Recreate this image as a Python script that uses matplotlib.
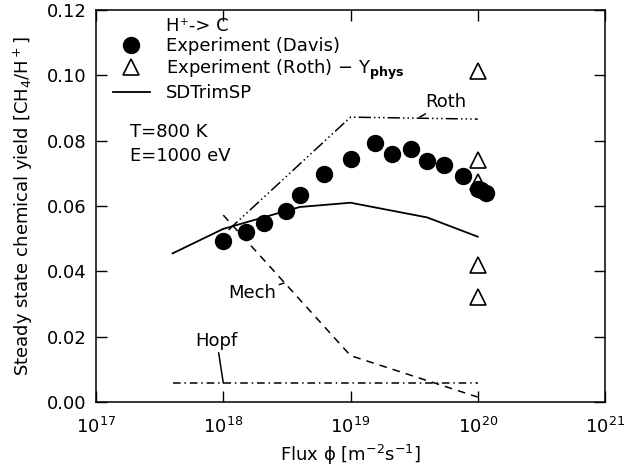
import matplotlib
matplotlib.use("Agg")
import matplotlib.pyplot as plt
from matplotlib.lines import Line2D

# Davis experiment (filled circles)
davis_flux = [1.0e18, 1.5e18, 2.1e18, 3.1e18, 4.0e18, 6.2e18, 1.0e19, 1.55e19,
              2.1e19, 3.0e19, 4.0e19, 5.4e19, 7.6e19, 1.0e20, 1.06e20, 1.16e20]
davis_yield = [0.0493, 0.0521, 0.0548, 0.0585, 0.0633, 0.0697, 0.0745, 0.0793,
               0.0758, 0.0774, 0.0739, 0.0726, 0.0692, 0.0652, 0.0648, 0.0640]

# Roth experiment - Y_phys (open triangles)
roth_flux = [1e20, 1e20, 1e20, 1e20, 1e20]
roth_yield = [0.1012, 0.0742, 0.0672, 0.0419, 0.0322]

# SDTrimSP
sdt_flux = [4e17, 1e18, 4e18, 1e19, 4e19, 1e20]
sdt_yield = [0.0455, 0.0530, 0.0597, 0.0610, 0.0565, 0.0506]

# model curves
roth_mod_flux = [1.1e18, 1e19, 1e20]
roth_mod_yield = [0.0527, 0.0872, 0.0866]
mech_flux = [1e18, 1e19, 1e20]
mech_yield = [0.0572, 0.0142, 0.0015]
hopf_flux = [4e17, 1e20]
hopf_yield = [0.0058, 0.0058]

plt.rcParams.update({'font.family': 'DejaVu Sans', 'font.size': 13,
                     'mathtext.default': 'regular'})

fig = plt.figure(figsize=(6.26, 4.67), dpi=100)
ax = fig.add_axes([0.1534, 0.1392, 0.8131, 0.8394])

ax.plot(roth_mod_flux, roth_mod_yield, color='black', lw=1.1,
        dashes=(8, 2, 1, 2, 1, 2, 1, 2))
ax.plot(mech_flux, mech_yield, color='black', lw=1.1, dashes=(5, 4))
ax.plot(hopf_flux, hopf_yield, color='black', lw=1.1, dashes=(5, 2.5, 1, 2.5))
ax.plot(sdt_flux, sdt_yield, color='black', lw=1.3)
ax.plot(davis_flux, davis_yield, 'o', color='black', ms=11.5, ls='none')
ax.plot(roth_flux, roth_yield, '^', mfc='none', mec='black', mew=1.2, ms=11, ls='none')

ann = dict(arrowprops=dict(arrowstyle='-', color='black', lw=1.1, shrinkA=0, shrinkB=0),
           ha='center', va='center', fontsize=13)
ax.annotate('Roth', xy=(3.5e19, 0.0872), xytext=(5.6e19, 0.0918), **ann)
ax.annotate('Mech', xy=(3.0e18, 0.0364), xytext=(1.7e18, 0.0333), **ann)
ax.annotate('Hopf', xy=(1e18, 0.0058), xytext=(8.9e17, 0.0187), **ann)

ax.text(0.067, 0.689, 'T=800 K', transform=ax.transAxes, va='center')
ax.text(0.067, 0.628, 'E=1000 eV', transform=ax.transAxes, va='center')

handles = [Line2D([], [], ls='none'),
           Line2D([], [], marker='o', color='black', ms=11.5, ls='none'),
           Line2D([], [], marker='^', mfc='none', mec='black', mew=1.2, ms=11, ls='none'),
           Line2D([], [], color='black', lw=1.3)]
labels = ['H\u207a-> C', 'Experiment (Davis)',
          r'Experiment (Roth) $-$ Y$_{\mathbf{phys}}$', 'SDTrimSP']
ax.legend(handles, labels, loc='upper left', bbox_to_anchor=(0.02, 1.0),
          frameon=False, handlelength=2.0, handletextpad=0.9,
          labelspacing=0.12, borderaxespad=0.0, fontsize=13)

ax.set_xscale('log')
ax.set_xlim(1e17, 1e21)
ax.set_ylim(0, 0.12)
ax.set_yticks([0.0, 0.02, 0.04, 0.06, 0.08, 0.10, 0.12])
ax.set_yticklabels(['0.00', '0.02', '0.04', '0.06', '0.08', '0.10', '0.12'])
ax.minorticks_off()
ax.tick_params(direction='in', length=8, width=1, top=True, right=True,
               labelsize=13)
ax.tick_params(axis='y', pad=7)
ax.tick_params(axis='x', pad=11)
for s in ax.spines.values():
    s.set_linewidth(1.1)

ax.set_xlabel(r'Flux $\phi$ [m$^{-2}$s$^{-1}$]', fontsize=13, labelpad=4)
ax.set_ylabel(r'Steady state chemical yield [CH$_4$/H$^+$]', fontsize=13, labelpad=8)

fig.savefig('out.png', dpi=100)
